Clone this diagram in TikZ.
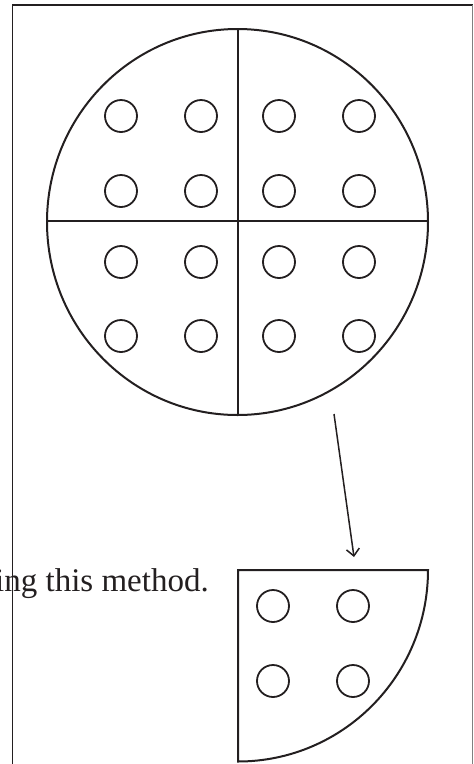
\documentclass[tikz,border=0pt]{standalone}
\usepackage{fontspec}
\setmainfont{Liberation Serif}
\usetikzlibrary{arrows.meta}
\definecolor{ink}{RGB}{35,31,32}
\tikzset{
  outline/.style={draw=ink, line width=2pt},
  hole/.style={draw=ink, line width=1.8pt},
  framebar/.style={draw=ink, line width=1.5pt},
  pointer/.style={draw=ink, line width=1.5pt, -{Straight Barb[length=7pt,width=13pt]}},
  caption/.style={text=ink, font=\fontsize{33}{40}\selectfont, inner sep=0pt, anchor=base west}
}
\begin{document}
\begin{tikzpicture}[x=1pt,y=-1pt]
\useasboundingbox (0,0) rectangle (474,764);
% frame
\draw[framebar] (12.7,764) -- (12.7,5) -- (473,5);
\draw[draw=gray, line width=0.9pt] (472.8,5) -- (472.8,764);
% text
\node[caption] (txt) at (-5,591.7) {ing this method.};
% big disc
\coordinate (c) at (237.5,222);
\draw[outline] (c) ellipse [x radius=190.5, y radius=193];
\draw[outline] (237.5,29) -- (237.5,415);
\draw[outline] (47,221) -- (428,221);
\foreach \x in {121,201,279,359}
  \foreach \y in {116,191,262,336}
    \draw[hole] (\x,\y) circle [radius=16];
% arrow
\coordinate (a1) at (334,414);
\coordinate (a2) at (354,557);
\draw[pointer] (a1) -- (a2);
% quarter piece
\draw[outline] (238,570) -- (428,570) arc [start angle=0, end angle=90, x radius=190, y radius=191.5] -- cycle;
\foreach \x in {273,353}
  \foreach \y in {606,681}
    \draw[hole] (\x,\y) circle [radius=16];
\end{tikzpicture}
\end{document}
